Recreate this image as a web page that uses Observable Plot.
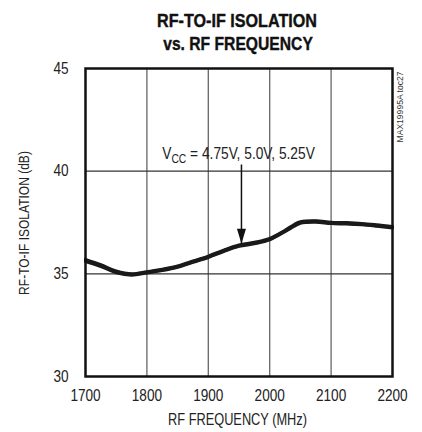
<!DOCTYPE html>
<html>
<head>
<meta charset="utf-8">
<script src="https://cdn.jsdelivr.net/npm/d3@7"></script>
<script src="https://cdn.jsdelivr.net/npm/@observablehq/plot@0.6"></script>
<style>
  html, body { margin: 0; padding: 0; background: #fff; }
  #chart { width: 422px; height: 432px; }
  svg text { font-family: "Liberation Sans", Arial, sans-serif; }
</style>
</head>
<body>
<div id="chart"></div>
<script>
const titleLines = ["RF-TO-IF ISOLATION", "vs. RF FREQUENCY"];
const xLabel = "RF FREQUENCY (MHz)";
const yLabel = "RF-TO-IF ISOLATION (dB)";
const sideNote = "MAX19995A toc27";
const xTicks = [1700, 1800, 1900, 2000, 2100, 2200];
const yTicks = [30, 35, 40, 45];
const freq = [1700, 1725, 1750, 1775, 1800, 1825, 1850, 1875, 1900, 1925, 1950, 1975, 2000, 2025, 2040, 2050, 2075, 2100, 2125, 2150, 2175, 2200];
const vcc475 = [35.70, 35.44, 35.14, 35.00, 35.10, 35.22, 35.38, 35.62, 35.86, 36.15, 36.40, 36.53, 36.72, 37.12, 37.40, 37.53, 37.58, 37.51, 37.49, 37.45, 37.38, 37.30];
const vcc500 = [35.65, 35.40, 35.10, 34.97, 35.07, 35.19, 35.35, 35.59, 35.83, 36.12, 36.37, 36.50, 36.69, 37.09, 37.36, 37.50, 37.55, 37.48, 37.46, 37.42, 37.35, 37.27];
const vcc525 = [35.60, 35.36, 35.06, 34.94, 35.04, 35.16, 35.32, 35.56, 35.80, 36.09, 36.34, 36.47, 36.66, 37.06, 37.32, 37.47, 37.52, 37.45, 37.43, 37.39, 37.32, 37.24];
const annotation = {x: 1950, y: 40.9, text: "VCC = 4.75V, 5.0V, 5.25V"};
const arrow = {x: 1954, y1: 40.3, y2: 36.47};

const rows = [];
[["4.75V", vcc475], ["5.0V", vcc500], ["5.25V", vcc525]].forEach(([s, vals]) =>
  vals.forEach((v, i) => rows.push({series: s, f: freq[i], db: v})));

const arrowHead = {
  draw(ctx, size) {
    ctx.moveTo(0, 0);
    ctx.lineTo(-4.5, -15);
    ctx.lineTo(4.5, -15);
    ctx.closePath();
  }
};

const plot = Plot.plot({
  width: 422,
  height: 432,
  marginLeft: 85,
  marginRight: 30,
  marginTop: 68,
  marginBottom: 56,
  style: {fontSize: "16px", color: "#222"},
  x: {domain: [1700, 2200]},
  y: {domain: [30, 45]},
  marks: [
    Plot.gridX(xTicks.slice(1, -1), {stroke: "#666", strokeOpacity: 1, strokeWidth: 1.3}),
    Plot.gridY(yTicks.slice(1, -1), {stroke: "#333", strokeOpacity: 1, strokeWidth: 1.3}),
    Plot.axisX(xTicks, {tickSize: 0, tickPadding: 13, fontSize: 16, label: null, tickFormat: d => String(d), fill: "#222"}),
    Plot.axisY(yTicks, {tickSize: 0, tickPadding: 17, fontSize: 16, label: null, tickFormat: d => String(d), fill: "#222"}),
    Plot.text([xLabel], {frameAnchor: "bottom", fontSize: 16, fill: "#222", className: "xlab"}),
    Plot.text([yLabel], {frameAnchor: "left", fontSize: 15, fill: "#222", className: "ylab"}),
    Plot.text([titleLines[0]], {frameAnchor: "top", fontSize: 19, fontWeight: "bold", fill: "#111", stroke: "#111", strokeWidth: 0.4, className: "t1"}),
    Plot.text([titleLines[1]], {frameAnchor: "top", fontSize: 19, fontWeight: "bold", fill: "#111", stroke: "#111", strokeWidth: 0.4, className: "t2"}),
    Plot.line(rows, {x: "f", y: "db", z: "series", stroke: "#1a1a1a", strokeWidth: 3.2, curve: "catmull-rom"}),
    Plot.ruleX([arrow], {x: "x", y1: "y1", y2: "y2", stroke: "#111", strokeWidth: 1.5}),
    Plot.dot([arrow], {x: "x", y: "y2", symbol: arrowHead, r: 6, fill: "#111", stroke: null}),
    Plot.text([annotation], {x: "x", y: "y", text: "text", fontSize: 16, fill: "#222", className: "ann"}),
    Plot.text([sideNote], {frameAnchor: "top-right", fontSize: 9.5, fill: "#333", className: "side"}),
    Plot.frame({stroke: "#111", strokeWidth: 2.5})
  ]
});

document.getElementById("chart").appendChild(plot);

const svg = d3.select(plot);
function place(cls, x, y, rot, targetW) {
  svg.selectAll("g." + cls + " text").each(function() {
    d3.select(this.parentNode).attr("transform", null);
    const el = d3.select(this).attr("x", null).attr("y", null).attr("dy", "0.35em")
      .attr("text-anchor", "middle").attr("transform", null);
    const w = this.getBBox().width;
    const s = targetW ? targetW / w : 1;
    el.attr("transform", `translate(${x},${y})` + (rot ? ` rotate(${rot})` : "") + ` scale(${s},1)`);
  });
}

// annotation subscript
svg.selectAll("g.ann text").each(function() {
  const el = d3.select(this);
  el.text(null);
  el.append("tspan").text("V");
  el.append("tspan").attr("font-size", 12).attr("dy", "4").text("CC");
  el.append("tspan").attr("dy", "-4").text(" = 4.75V, 5.0V, 5.25V");
});

place("t1", 237, 20, 0, 160);
place("t2", 238, 43, 0, 150);
place("xlab", 237.5, 419, 0, 139);
place("ylab", 24, 223, -90, 144);
place("side", 400, 107, -90, 71);
place("ann", 238.5, 153, 0, 153);

// condense tick labels
svg.selectAll('g[aria-label="x-axis tick label"] text, g[aria-label="y-axis tick label"] text').each(function() {
  const t = this.getAttribute("transform") || "";
  this.setAttribute("transform", t + " scale(0.85,1)");
});
</script>
</body>
</html>
